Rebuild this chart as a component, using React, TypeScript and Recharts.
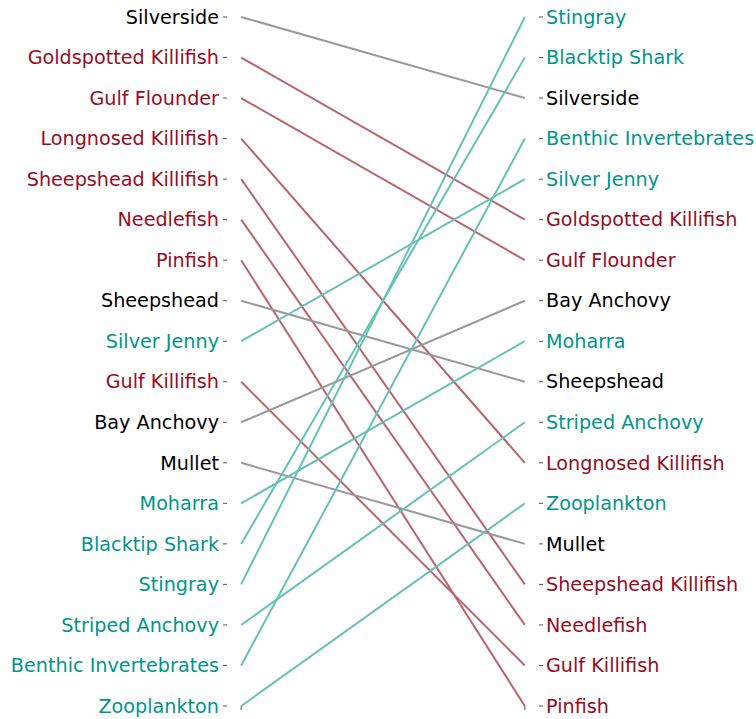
import { LineChart, Line, XAxis, YAxis } from "recharts"

const RED = "#9a0b1c"
const TEAL = "#00968a"
const BLACK = "#000000"

// species, group, rank on the left, rank on the right
const species = [
  "Silverside", "Goldspotted Killifish", "Gulf Flounder", "Longnosed Killifish",
  "Sheepshead Killifish", "Needlefish", "Pinfish", "Sheepshead", "Silver Jenny",
  "Gulf Killifish", "Bay Anchovy", "Mullet", "Moharra", "Blacktip Shark",
  "Stingray", "Striped Anchovy", "Benthic Invertebrates", "Zooplankton",
]
const groups = [
  "black", "red", "red", "red", "red", "red", "red", "black", "teal",
  "red", "black", "black", "teal", "teal", "teal", "teal", "teal", "teal",
]
const leftRank = [1, 2, 3, 4, 5, 6, 7, 8, 9, 10, 11, 12, 13, 14, 15, 16, 17, 18]
const rightRank = [3, 6, 7, 12, 15, 16, 18, 10, 5, 17, 8, 14, 9, 2, 1, 11, 4, 13]

const textColor: Record<string, string> = { black: BLACK, red: RED, teal: TEAL }
const lineColor: Record<string, string> = { black: "#999999", red: "#b9646b", teal: "#66c0b8" }

const ranks = leftRank.map((_, i) => i + 1)
const nameAt = (ranking: number[], r: number) => species[ranking.indexOf(r)]
const groupAt = (ranking: number[], r: number) => groups[ranking.indexOf(r)]

const FONT = "'DejaVu Sans', sans-serif"

function RankTick(props: any) {
  const { x, y, payload, ranking, anchor } = props
  const r = payload.value
  return (
    <text
      x={x}
      y={y}
      dy="0.35em"
      textAnchor={anchor}
      fontFamily={FONT}
      fontSize={19.2}
      fill={textColor[groupAt(ranking, r)]}
    >
      {nameAt(ranking, r)}
    </text>
  )
}

export default function App() {
  return (
    <div style={{ position: "absolute", left: 0, top: 0, background: "#fff" }}>
      <LineChart width={756} height={719} margin={{ top: 17, right: 0, bottom: 0, left: 0 }}>
        <XAxis
          type="number"
          dataKey="x"
          domain={[-0.05, 1.05]}
          ticks={[0, 1]}
          axisLine={false}
          tickLine={{ stroke: "#555", strokeWidth: 1 }}
          tickSize={4}
          tickFormatter={() => ""}
          height={13}
        />
        <YAxis
          yAxisId="left"
          type="number"
          domain={[1, 18]}
          reversed
          ticks={ranks}
          interval={0}
          width={227}
          axisLine={false}
          tickLine={{ stroke: "#555", strokeWidth: 1 }}
          tickSize={4}
          tickMargin={4}
          tick={<RankTick ranking={leftRank} anchor="end" />}
        />
        <YAxis
          yAxisId="right"
          orientation="right"
          type="number"
          domain={[1, 18]}
          reversed
          ticks={ranks}
          interval={0}
          width={217}
          axisLine={false}
          tickLine={{ stroke: "#555", strokeWidth: 1 }}
          tickSize={4}
          tickMargin={3}
          tick={<RankTick ranking={rightRank} anchor="start" />}
        />
        {/* both y axes share the same 1..18 domain, so lines can sit on either */}
        {species.map((name, i) => (
          <Line
            key={name}
            yAxisId={i % 2 === 0 ? "left" : "right"}
            data={[
              { x: 0, y: leftRank[i] },
              { x: 1, y: rightRank[i] },
            ]}
            dataKey="y"
            stroke={lineColor[groups[i]]}
            strokeWidth={2}
            dot={false}
            activeDot={false}
            isAnimationActive={false}
          />
        ))}
      </LineChart>
    </div>
  )
}
